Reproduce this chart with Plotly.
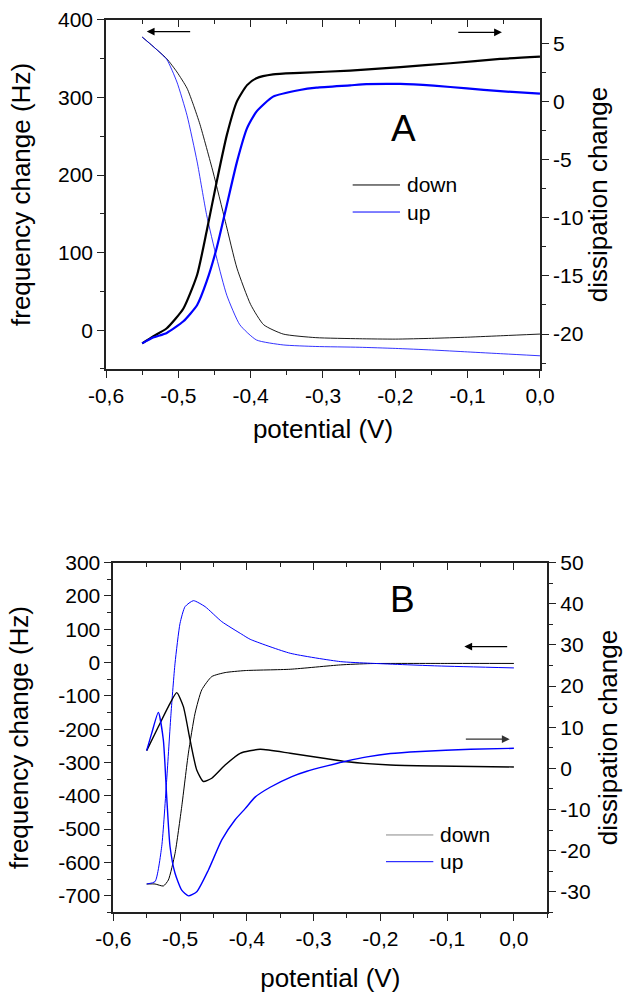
import plotly.graph_objects as go

# ---- panel A ----
potA_freq_down = [-0.55, -0.535, -0.516, -0.502, -0.488, -0.479, -0.470, -0.452, -0.435, -0.419, -0.400,
                  -0.382, -0.355, -0.31, -0.25, -0.20, -0.15, -0.10, -0.05, 0.0]
freqA_down = [378, 366, 350, 333, 312, 290, 265, 204, 140, 80, 33, 7, -5, -9.6, -11, -11.5, -10.5, -9, -7, -5]

potA_freq_up = [-0.55, -0.535, -0.516, -0.502, -0.488, -0.474, -0.461, -0.447, -0.433, -0.415, -0.392,
                -0.355, -0.31, -0.25, -0.20, -0.15, -0.10, -0.05, 0.0]
freqA_up = [378, 366, 349, 320, 277, 217, 149, 93, 45, 7, -12.6, -19, -21, -22, -23.5, -25.5, -28, -30.5, -33]

potA_diss_down = [-0.55, -0.535, -0.516, -0.493, -0.474, -0.461, -0.447, -0.433, -0.419, -0.405, -0.392,
                  -0.369, -0.332, -0.2625, -0.193, -0.124, -0.055, 0.0]
dissA_down = [-20.8, -20.2, -19.5, -17.8, -14.9, -11.2, -6.9, -2.9, 0.0, 1.4, 2.0, 2.33, 2.45, 2.65, 2.95,
              3.28, 3.65, 3.85]

potA_diss_up = [-0.55, -0.535, -0.516, -0.493, -0.474, -0.461, -0.447, -0.433, -0.419, -0.405, -0.392,
                -0.369, -0.332, -0.309, -0.2625, -0.24, -0.193, -0.147, -0.101, -0.055, 0.0]
dissA_up = [-20.8, -20.3, -19.9, -18.9, -17.5, -15.5, -12.6, -8.9, -5.2, -2.3, -0.88, 0.41, 0.98, 1.18,
            1.38, 1.48, 1.5, 1.35, 1.12, 0.88, 0.67]

# ---- panel B ----
potB_freq_down = [-0.55, -0.5375, -0.525, -0.5175, -0.5075, -0.4975, -0.4875, -0.4775, -0.4675, -0.4525,
                  -0.4325, -0.4025, -0.335, -0.26, -0.215, -0.1, 0.0]
freqB_down = [-665, -665, -671, -653, -573, -433, -272, -152, -82, -42, -30, -24, -20, -7, -3, -2.5, -2.5]

potB_freq_up = [-0.55, -0.5375, -0.5275, -0.52, -0.5135, -0.5075, -0.5, -0.4925, -0.48, -0.4625, -0.4375,
                -0.4075, -0.395, -0.335, -0.26, -0.215, -0.115, 0.0]
freqB_up = [-665, -658, -553, -352, -152, -2, 118, 168, 186, 168, 123, 85, 70, 28, 3, -2, -10, -16]

potB_diss_down = [-0.55, -0.5325, -0.5175, -0.505, -0.495, -0.485, -0.475, -0.465, -0.4525, -0.4325, -0.41,
                  -0.38, -0.335, -0.285, -0.25, -0.185, -0.115, 0.0]
dissB_down = [4.3, 10.1, 15, 18.4, 15, 6.9, -0.4, -3.2, -2.4, 0.8, 3.66, 4.63, 3.66, 2.44, 1.6, 0.81, 0.57, 0.33]

potB_diss_up = [-0.55, -0.5425, -0.5325, -0.525, -0.52, -0.515, -0.5075, -0.4975, -0.4875, -0.475, -0.4575,
                -0.4375, -0.4175, -0.4025, -0.3876, -0.365, -0.3325, -0.31, -0.28, -0.25, -0.22, -0.185,
                -0.14, -0.065, 0.0]
dissB_up = [4.3, 8.5, 13.6, 6.9, -6.9, -19, -25.5, -29.6, -31, -30, -24.7, -17.4, -12.5, -9.8, -7.0, -4.6,
            -2.0, -0.7, 0.6, 1.8, 2.8, 3.6, 4.1, 4.63, 4.87]

# tick labels (comma decimals, plain hyphen)
pot_ticks = [-0.6, -0.5, -0.4, -0.3, -0.2, -0.1, 0.0]
pot_labels = ["-0,6", "-0,5", "-0,4", "-0,3", "-0,2", "-0,1", "0,0"]
freqA_ticks = [0, 100, 200, 300, 400]
dissA_ticks = [-20, -15, -10, -5, 0, 5]
freqB_ticks = [-700, -600, -500, -400, -300, -200, -100, 0, 100, 200, 300]
dissB_ticks = [-30, -20, -10, 0, 10, 20, 30, 40, 50]

FONT = "Liberation Sans"
BLUE = "#0000ff"

fig = go.Figure()
sp = dict(mode="lines", line_shape="spline", showlegend=False, hoverinfo="skip")
fig.add_scatter(x=potA_freq_down, y=freqA_down, xaxis="x", yaxis="y", line=dict(color="black", width=0.9, smoothing=0.55), **sp)
fig.add_scatter(x=potA_freq_up, y=freqA_up, xaxis="x", yaxis="y", line=dict(color=BLUE, width=0.8, smoothing=0.55), **sp)
fig.add_scatter(x=potA_diss_down, y=dissA_down, xaxis="x", yaxis="y2", line=dict(color="black", width=2.2, smoothing=0.55), **sp)
fig.add_scatter(x=potA_diss_up, y=dissA_up, xaxis="x", yaxis="y2", line=dict(color=BLUE, width=2.2, smoothing=0.55), **sp)
fig.add_scatter(x=[], y=[], xaxis="x3", yaxis="y", **sp)

fig.add_scatter(x=potB_freq_down, y=freqB_down, xaxis="x2", yaxis="y3", line=dict(color="black", width=1, smoothing=0.55), **sp)
fig.add_scatter(x=potB_freq_up, y=freqB_up, xaxis="x2", yaxis="y3", line=dict(color=BLUE, width=1, smoothing=0.55), **sp)
fig.add_scatter(x=potB_diss_down, y=dissB_down, xaxis="x2", yaxis="y4", line=dict(color="black", width=1.4, smoothing=0.55), **sp)
fig.add_scatter(x=potB_diss_up, y=dissB_up, xaxis="x2", yaxis="y4", line=dict(color=BLUE, width=1.4, smoothing=0.55), **sp)
fig.add_scatter(x=[], y=[], xaxis="x4", yaxis="y3", **sp)

tickfont = dict(family=FONT, size=21, color="black")
titlefont = dict(family=FONT, size=26, color="black")
axbase = dict(showline=True, linecolor="#222", linewidth=1.6, ticks="outside", ticklen=7, tickwidth=1.4,
              tickcolor="#222", showgrid=False, zeroline=False, tickfont=tickfont, automargin=False)


def minor(d, t0=0, side="outside"):
    return dict(ticks=side, ticklen=4, tickwidth=1.2, tickcolor="#222", tickmode="linear", tick0=t0, dtick=d,
                showgrid=False)


domA_x = [0.1683, 0.8571]
domA_y = [0.6288, 0.9799]
domB_x = [0.1798, 0.8687]
domB_y = [0.0822, 0.4339]

fig.update_layout(
    width=630, height=994, template="none",
    margin=dict(l=0, r=0, t=0, b=0),
    paper_bgcolor="white", plot_bgcolor="white",
    xaxis=dict(axbase, domain=domA_x, anchor="y", range=[-0.6, 0.0], tickmode="array", tickvals=pot_ticks,
               ticktext=pot_labels, minor=minor(0.05),
               title=dict(text="potential (V)", font=titlefont, standoff=14)),
    xaxis3=dict(axbase, domain=domA_x, anchor="y", overlaying="x", side="top", range=[-0.6, 0.0],
                tickmode="array", tickvals=pot_ticks, showticklabels=False, ticks="inside",
                minor=minor(0.05, side="inside")),
    yaxis=dict(axbase, domain=domA_y, anchor="x", range=[-50, 400], tickmode="array", tickvals=freqA_ticks,
               ticktext=[str(v) for v in freqA_ticks], minor=minor(50),
               title=dict(text="frequency change (Hz)", font=titlefont, standoff=20)),
    yaxis2=dict(axbase, domain=domA_y, anchor="x", overlaying="y", side="right", range=[-23, 7],
                tickmode="array", tickvals=dissA_ticks, ticktext=[str(v) for v in dissA_ticks],
                minor=minor(2.5), title=dict(text="dissipation change", font=titlefont, standoff=4)),
    xaxis2=dict(axbase, domain=domB_x, anchor="y3", range=[-0.6, 0.05], tickmode="array", tickvals=pot_ticks,
                ticktext=pot_labels, minor=minor(0.05),
                title=dict(text="potential (V)", font=titlefont, standoff=20)),
    xaxis4=dict(axbase, domain=domB_x, anchor="y3", overlaying="x2", side="top", range=[-0.6, 0.05],
                tickmode="array", tickvals=pot_ticks, showticklabels=False, ticks="inside",
                minor=minor(0.05, side="inside")),
    yaxis3=dict(axbase, domain=domB_y, anchor="x2", range=[-750, 300], tickmode="array", tickvals=freqB_ticks,
                ticktext=[str(v) for v in freqB_ticks], minor=minor(50),
                title=dict(text="frequency change (Hz)", font=titlefont, standoff=22)),
    yaxis4=dict(axbase, domain=domB_y, anchor="x2", overlaying="y3", side="right", range=[-35, 50],
                tickmode="array", tickvals=dissB_ticks, ticktext=[str(v) for v in dissB_ticks],
                minor=minor(5), title=dict(text="dissipation change", font=titlefont, standoff=9)),
)

# panel letters
fig.add_annotation(text="A", xref="paper", yref="paper", x=0.6397, y=0.8712, showarrow=False,
                   xanchor="center", yanchor="middle", font=dict(family=FONT, size=37, color="black"))
fig.add_annotation(text="B", xref="paper", yref="paper", x=0.6392, y=0.3964, showarrow=False,
                   xanchor="center", yanchor="middle", font=dict(family=FONT, size=37, color="black"))

# legends drawn as line samples + labels
legend_rows = [
    # (x0, x1, y, colour, label)
    (0.5598, 0.6349, 0.8139, "black", "down"),
    (0.5598, 0.6349, 0.7867, BLUE, "up"),
    (0.6127, 0.6878, 0.1600, "#888888", "down"),
    (0.6127, 0.6878, 0.1331, BLUE, "up"),
]
for x0, x1, yy, col, lab in legend_rows:
    fig.add_shape(type="line", xref="paper", yref="paper", x0=x0, x1=x1, y0=yy, y1=yy,
                  line=dict(color=col, width=1))
    fig.add_annotation(text=lab, xref="paper", yref="paper", x=x1 + 0.008, y=yy, xanchor="left",
                       yanchor="middle", showarrow=False, font=dict(family=FONT, size=21, color="black"))

# direction arrows (head at x/y, tail at ax/ay)
arrows = [
    ("x", "y", -0.5437, 385, -0.4816, 385, "black"),
    ("x", "y2", -0.0526, 5.94, -0.115, 5.94, "black"),
    ("x2", "y3", -0.0742, 48, -0.0078, 48, "black"),
    ("x2", "y4", -0.0063, 7.1, -0.0742, 7.1, "#333333"),
]
for xr, yr, hx, hy, tx, ty, col in arrows:
    fig.add_annotation(x=hx, y=hy, ax=tx, ay=ty, xref=xr, yref=yr, axref=xr, ayref=yr, text="",
                       showarrow=True, arrowhead=2, arrowsize=1.3, arrowwidth=1.2, arrowcolor=col)

fig.write_html("out.html", config={"displayModeBar": False},
               post_script="document.body.style.margin='0';")
